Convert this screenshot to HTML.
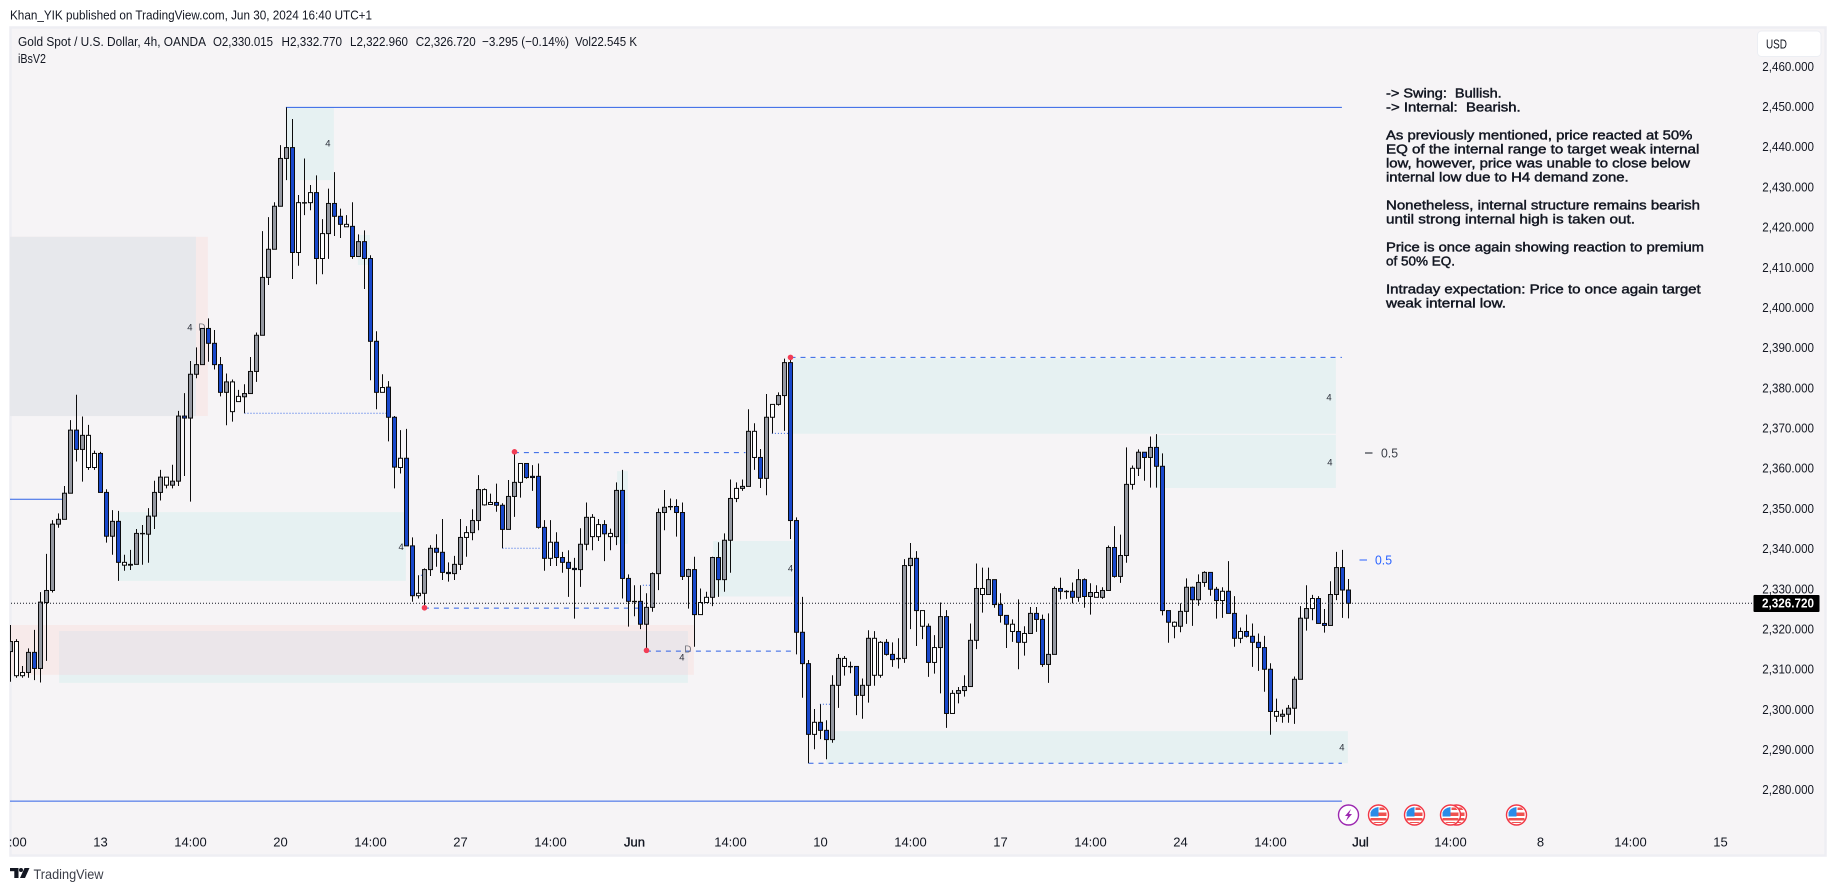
<!DOCTYPE html>
<html lang="en">
<head>
<meta charset="utf-8">
<title>Gold Spot / U.S. Dollar 4h chart</title>
<style>
html,body{margin:0;padding:0;background:#fff;width:1835px;height:891px;overflow:hidden}
svg{display:block}
text{font-family:"Liberation Sans",sans-serif;fill:#131722}
.note{white-space:pre;font-weight:400;stroke:#131722;stroke-width:.45px}
</style>
</head>
<body>
<svg id="chart" xmlns="http://www.w3.org/2000/svg" width="1835" height="891" viewBox="0 0 1835 891">
  <defs>
    <clipPath id="plot-clip"><rect x="10" y="28" width="1815" height="827"/></clipPath>
    <clipPath id="time-clip"><rect x="9" y="825" width="1742" height="30"/></clipPath>
  </defs>
  <rect x="0" y="0" width="1835" height="891" fill="#ffffff"/>
  <text x="10" y="19.5" font-size="13" fill="#2a2e39" textLength="362" lengthAdjust="spacingAndGlyphs">Khan_YIK published on TradingView.com, Jun 30, 2024 16:40 UTC+1</text>
  <rect x="10.5" y="27.5" width="1815" height="828" fill="#f6f4f6" stroke="#eeeef3" stroke-width="2.5"/>

  <g id="zones" clip-path="url(#plot-clip)"></g>
  <g id="levels" clip-path="url(#plot-clip)"></g>
  <g id="zone-labels"></g>
  <g id="candles" clip-path="url(#plot-clip)"></g>
  <g id="pivots"></g>

  <g>
    <text x="18" y="46" font-size="13" textLength="188" lengthAdjust="spacingAndGlyphs">Gold Spot / U.S. Dollar, 4h, OANDA</text>
    <text x="213" y="46" font-size="13" textLength="60" lengthAdjust="spacingAndGlyphs">O2,330.015</text>
    <text x="281.5" y="46" font-size="13" textLength="60.5" lengthAdjust="spacingAndGlyphs">H2,332.770</text>
    <text x="350" y="46" font-size="13" textLength="58" lengthAdjust="spacingAndGlyphs">L2,322.960</text>
    <text x="415.7" y="46" font-size="13" textLength="60" lengthAdjust="spacingAndGlyphs">C2,326.720</text>
    <text x="482" y="46" font-size="13" textLength="87" lengthAdjust="spacingAndGlyphs">−3.295 (−0.14%)</text>
    <text x="575" y="46" font-size="13" textLength="62" lengthAdjust="spacingAndGlyphs">Vol22.545 K</text>
    <text x="18" y="63" font-size="12.5" textLength="28" lengthAdjust="spacingAndGlyphs">iBsV2</text>
  </g>

  <g font-size="13">
    <text class="note" x="1386" y="97.5" textLength="115.7" lengthAdjust="spacingAndGlyphs">-&gt; Swing:  Bullish.</text>
    <text class="note" x="1386" y="111.5" textLength="134.7" lengthAdjust="spacingAndGlyphs">-&gt; Internal:  Bearish.</text>
    <text class="note" x="1386" y="139.5" textLength="306.3" lengthAdjust="spacingAndGlyphs">As previously mentioned, price reacted at 50%</text>
    <text class="note" x="1386" y="153.5" textLength="313.3" lengthAdjust="spacingAndGlyphs">EQ of the internal range to target weak internal</text>
    <text class="note" x="1386" y="167.5" textLength="304" lengthAdjust="spacingAndGlyphs">low, however, price was unable to close below</text>
    <text class="note" x="1386" y="181.5" textLength="242.7" lengthAdjust="spacingAndGlyphs">internal low due to H4 demand zone.</text>
    <text class="note" x="1386" y="209.5" textLength="314" lengthAdjust="spacingAndGlyphs">Nonetheless, internal structure remains bearish</text>
    <text class="note" x="1386" y="223.5" textLength="249" lengthAdjust="spacingAndGlyphs">until strong internal high is taken out.</text>
    <text class="note" x="1386" y="251.5" textLength="318" lengthAdjust="spacingAndGlyphs">Price is once again showing reaction to premium</text>
    <text class="note" x="1386" y="265.5" textLength="69" lengthAdjust="spacingAndGlyphs">of 50% EQ.</text>
    <text class="note" x="1386" y="293.5" textLength="314.7" lengthAdjust="spacingAndGlyphs">Intraday expectation: Price to once again target</text>
    <text class="note" x="1386" y="307.5" textLength="120" lengthAdjust="spacingAndGlyphs">weak internal low.</text>
  </g>

  <g>
    <rect x="1365" y="452.5" width="7.5" height="1" fill="#131722"/>
    <text x="1381" y="457.5" font-size="13" style="fill:#3a3d46" textLength="17" lengthAdjust="spacingAndGlyphs">0.5</text>
  </g>
  <g>
    <rect x="1359.5" y="559.5" width="7.5" height="1" fill="#2962ff"/>
    <text x="1375" y="564.5" font-size="13" style="fill:#2962ff" textLength="17" lengthAdjust="spacingAndGlyphs">0.5</text>
  </g>

  <g id="price-axis"></g>
  <g id="time-axis" clip-path="url(#time-clip)"></g>

  <line id="last-price-line" x1="11" x2="1753" stroke="#131722" stroke-width="1" stroke-dasharray="1 2"/>
  <rect id="last-price-box" x="1753.5" width="66" height="17" rx="1" fill="#000000"/>
  <text id="last-price-text" x="1762" font-size="13" font-weight="700" style="fill:#ffffff" textLength="52" lengthAdjust="spacingAndGlyphs"></text>

  <g>
    <rect x="1757.5" y="31" width="63.5" height="25.5" rx="4" fill="#ffffff" stroke="#eceef3" stroke-width="1"/>
    <text x="1766" y="48.5" font-size="12.5" textLength="21" lengthAdjust="spacingAndGlyphs">USD</text>
  </g>

  <g id="events"></g>

  <g>
    <rect x="10" y="868" width="8.5" height="3.2" fill="#131722"/>
    <rect x="14.3" y="868" width="4.2" height="10" fill="#131722"/>
    <circle cx="21" cy="870" r="2" fill="#131722"/>
    <polygon points="24.5,868 29.5,868 25,878 20,878" fill="#131722"/>
    <text x="33.5" y="879" font-size="14" style="fill:#3b3e48" textLength="70" lengthAdjust="spacingAndGlyphs">TradingView</text>
  </g>
</svg>

<script>
// ---- Candle data (first bar is index -1) ----
const opens = [
2314.7,2308.7,2308.7,2309.5,2314.5,2310.5,2326.9,2329.9,2346.4,2347.6,
2354.1,2369.8,2365.0,2360.5,2360.5,2364.0,2354.3,2343.4,2347.1,2336.2,
2336.4,2336.4,2344.0,2343.9,2348.4,2354.3,2356.1,2356.1,2357.1,2373.3,
2372.8,2383.7,2386.1,2395.1,2391.4,2386.1,2379.2,2374.4,2376.9,2378.1,
2378.9,2384.4,2393.4,2407.8,2414.8,2425.5,2437.4,2440.1,2414.0,2426.3,
2426.4,2428.9,2412.5,2418.7,2426.2,2423.0,2420.4,2420.5,2413.0,2416.7,
2412.5,2391.9,2379.2,2380.5,2373.0,2360.5,2362.8,2341.0,2328.6,2329.2,
2335.1,2340.4,2339.4,2334.4,2334.1,2336.4,2343.1,2344.3,2347.3,2351.2,
2351.3,2351.8,2351.1,2345.1,2353.3,2356.8,2361.5,2358.3,2358.3,2345.6,
2337.9,2341.9,2338.1,2336.9,2335.4,2335.1,2341.4,2343.3,2343.3,2346.3,
2343.3,2343.3,2354.8,2332.9,2327.2,2327.2,2321.5,2325.7,2334.1,2349.3,
2350.8,2350.8,2349.3,2333.4,2335.1,2323.9,2326.9,2328.2,2338.1,2332.6,
2342.4,2352.8,2355.3,2355.8,2363.0,2363.0,2357.8,2373.0,2376.2,2378.4,
2386.6,2347.3,2319.5,2311.7,2294.1,2297.1,2295.1,2292.8,2306.3,2311.0,
2311.0,2311.0,2303.8,2306.3,2308.8,2308.8,2317.0,2314.0,2313.0,2313.0,
2336.1,2337.9,2321.0,2321.0,2312.0,2315.7,2323.4,2299.3,2304.3,2305.0,
2306.0,2317.5,2328.9,2328.9,2332.6,2326.4,2323.7,2319.7,2319.7,2317.0,
2319.2,2324.2,2322.7,2311.5,2314.0,2330.4,2329.7,2329.7,2328.2,2332.6,
2328.4,2328.2,2328.2,2329.9,2340.6,2333.4,2338.6,2356.3,2360.3,2364.3,
2363.0,2365.5,2360.8,2324.9,2321.0,2321.0,2324.7,2330.7,2327.6,2331.9,
2334.4,2330.2,2327.4,2329.7,2324.2,2318.0,2319.7,2318.5,2317.0,2315.7,
2310.3,2298.6,2298.6,2299.1,2300.6,2307.8,2323.0,2325.4,2327.9,2321.7,
2321.2,2328.9,2335.6,2330.015];
const highs = [
2321.3,2317.8,2311.1,2315.5,2320.1,2329.5,2339.0,2347.4,2349.1,2355.9,
2372.3,2378.6,2373.2,2371.1,2364.7,2364.4,2355.1,2349.9,2349.7,2338.8,
2340.0,2345.2,2346.2,2350.4,2357.2,2359.9,2358.1,2361.2,2374.6,2379.0,
2387.0,2390.4,2395.1,2397.6,2394.7,2388.0,2383.9,2382.4,2379.8,2381.2,
2388.0,2394.1,2419.3,2422.8,2426.5,2440.7,2450.1,2447.2,2428.3,2437.4,
2430.8,2433.2,2422.3,2429.9,2434.0,2424.9,2423.3,2426.5,2418.5,2419.5,
2413.3,2394.4,2383.7,2382.0,2373.3,2369.8,2370.1,2343.1,2333.7,2335.4,
2341.2,2343.9,2347.7,2336.9,2338.5,2347.7,2345.9,2350.1,2358.6,2355.3,
2354.0,2356.5,2351.6,2357.4,2364.0,2361.5,2361.5,2361.1,2361.5,2347.4,
2347.4,2344.4,2339.5,2339.9,2338.0,2345.4,2351.8,2348.9,2347.7,2347.4,
2345.3,2356.8,2359.9,2333.9,2331.2,2331.2,2329.2,2334.4,2350.3,2354.9,
2352.8,2352.6,2351.8,2335.3,2338.3,2330.4,2329.6,2338.3,2341.9,2344.1,
2357.5,2356.8,2357.5,2375.0,2371.5,2365.1,2378.8,2376.2,2379.2,2387.6,
2388.2,2348.1,2328.3,2312.6,2300.4,2301.6,2297.6,2308.8,2314.1,2313.6,
2312.2,2311.0,2308.0,2320.0,2319.8,2317.3,2317.8,2317.0,2318.0,2337.7,
2341.7,2339.7,2324.9,2321.7,2318.8,2326.9,2325.0,2305.1,2305.9,2308.8,
2321.7,2336.6,2335.6,2335.6,2332.6,2329.2,2323.7,2322.7,2327.7,2321.0,
2325.8,2325.8,2323.9,2324.2,2330.9,2333.1,2330.0,2331.9,2335.2,2332.9,
2331.7,2331.2,2330.7,2341.1,2345.9,2343.8,2365.5,2361.0,2365.0,2364.3,
2368.2,2368.8,2364.0,2324.9,2322.2,2326.7,2332.9,2330.9,2333.9,2334.7,
2334.4,2330.8,2330.7,2337.2,2328.5,2320.7,2323.9,2321.7,2319.2,2318.6,
2311.8,2303.0,2300.3,2301.4,2308.5,2326.0,2331.2,2328.8,2328.5,2325.3,
2332.2,2339.5,2340.0,2332.77];
const lows = [
2307.2,2308.2,2308.2,2308.2,2307.6,2307.0,2312.4,2329.4,2345.5,2347.6,
2354.1,2362.0,2357.0,2359.9,2359.9,2354.3,2341.8,2338.8,2332.3,2334.8,
2335.0,2336.4,2336.3,2336.8,2345.2,2352.3,2355.3,2355.3,2355.9,2358.4,
2352.0,2382.7,2386.1,2386.8,2384.9,2378.2,2371.0,2371.9,2376.9,2374.0,
2378.9,2381.8,2393.4,2405.9,2414.8,2425.5,2432.0,2407.4,2410.7,2423.3,
2424.5,2406.1,2408.6,2412.4,2418.1,2417.6,2420.4,2412.4,2412.9,2404.9,
2382.2,2375.0,2379.2,2367.0,2355.3,2359.0,2341.0,2327.1,2327.9,2325.6,
2333.5,2335.8,2332.5,2332.1,2332.5,2335.0,2338.3,2342.4,2344.9,2351.0,
2351.2,2349.5,2340.4,2345.1,2348.2,2353.0,2357.7,2354.7,2345.3,2334.8,
2336.0,2336.0,2334.3,2328.3,2322.9,2330.8,2339.9,2339.9,2342.2,2337.2,
2339.9,2341.2,2327.9,2320.9,2323.5,2320.3,2315.1,2324.6,2330.0,2344.9,
2349.9,2343.3,2332.5,2325.4,2315.9,2323.9,2326.9,2326.0,2328.3,2329.6,
2334.3,2351.9,2354.7,2355.8,2359.9,2355.4,2353.6,2369.0,2375.9,2369.6,
2342.7,2314.0,2303.2,2286.9,2290.4,2292.9,2287.9,2292.0,2300.7,2308.7,
2309.3,2298.9,2298.0,2302.0,2306.2,2308.2,2313.7,2310.9,2310.5,2311.9,
2320.3,2316.1,2317.8,2308.4,2309.2,2304.3,2295.7,2299.3,2301.8,2303.5,
2306.0,2315.3,2324.4,2328.9,2325.6,2321.9,2315.6,2317.1,2310.3,2313.7,
2319.2,2319.6,2310.9,2306.9,2314.0,2327.7,2327.8,2326.7,2327.1,2325.6,
2323.9,2328.2,2327.8,2329.9,2333.1,2331.8,2336.8,2355.0,2358.4,2357.2,
2355.5,2355.5,2323.7,2316.9,2318.0,2319.5,2321.6,2321.1,2326.1,2330.8,
2328.6,2322.9,2323.1,2324.2,2315.9,2316.8,2318.2,2310.9,2309.9,2304.7,
2294.0,2297.2,2297.0,2297.0,2296.7,2307.8,2319.9,2322.5,2321.7,2319.4,
2321.2,2327.5,2323.1,2322.96];
const closes = [
2317.2,2317.2,2309.5,2314.5,2310.5,2327.0,2329.9,2346.4,2347.6,2354.1,
2369.8,2365.0,2368.5,2368.5,2364.0,2354.3,2343.4,2347.1,2336.9,2336.9,
2336.2,2344.1,2344.1,2348.4,2354.3,2358.1,2358.1,2357.1,2373.3,2372.8,
2383.7,2386.1,2395.1,2391.4,2386.1,2379.2,2381.8,2381.8,2378.2,2378.9,
2384.4,2393.4,2407.8,2414.8,2425.5,2437.4,2440.1,2414.0,2426.4,2426.4,
2428.9,2412.5,2418.7,2426.2,2423.0,2421.0,2421.0,2413.0,2416.7,2412.5,
2391.9,2379.2,2380.4,2373.0,2360.6,2362.8,2341.0,2328.6,2329.2,2335.1,
2340.4,2339.4,2334.4,2334.1,2336.4,2343.1,2344.3,2347.3,2355.0,2355.0,
2351.8,2351.1,2345.1,2353.3,2356.8,2361.5,2358.0,2358.0,2345.6,2337.9,
2341.9,2338.1,2336.9,2335.4,2335.1,2341.4,2348.1,2348.1,2346.3,2344.0,
2344.1,2354.8,2332.9,2327.2,2327.1,2321.5,2325.7,2334.1,2349.3,2350.6,
2350.7,2349.3,2333.4,2335.1,2323.9,2326.9,2328.2,2338.1,2332.6,2342.4,
2352.8,2355.3,2355.8,2369.5,2369.5,2357.8,2373.0,2376.2,2378.4,2386.6,
2347.3,2319.5,2311.7,2294.1,2297.1,2295.1,2292.8,2306.3,2313.0,2313.0,
2310.9,2303.8,2306.3,2318.0,2318.0,2317.0,2314.0,2312.7,2312.9,2336.1,
2337.9,2324.9,2324.9,2312.0,2315.7,2323.4,2299.3,2304.3,2305.0,2306.0,
2317.5,2330.4,2330.4,2332.6,2326.4,2323.7,2321.5,2321.5,2317.0,2319.2,
2324.2,2322.7,2311.5,2314.0,2330.4,2329.7,2329.6,2328.2,2332.6,2328.4,
2329.4,2329.4,2329.9,2340.6,2333.4,2338.6,2356.3,2360.3,2364.3,2363.0,
2365.5,2360.8,2324.9,2322.0,2322.0,2324.7,2330.7,2327.6,2331.9,2334.4,
2330.2,2327.4,2329.7,2324.2,2318.0,2319.7,2318.5,2317.0,2315.7,2310.3,
2299.8,2299.8,2299.1,2300.6,2307.8,2323.0,2325.4,2327.9,2321.7,2321.2,
2328.9,2335.6,2330.015,2326.72];
const whiteBars = [0,1,12,13,18,25,36,37,47,49,51,55,61,64,67,75,78,79,84,89,96,97,99,114,115,120,123,126,133,138,143,144,151,153,156,161,166,168,180,186,193,201,204,210,216];
const firstBar = -1;
const lastPrice = 2326.72;

// ---- Axis data ----
const priceTicks = [2460,2450,2440,2430,2420,2410,2400,2390,2380,2370,2360,2350,2340,2330,2320,2310,2300,2290,2280];
const timeLabels = ["14:00","13","14:00","20","14:00","27","14:00","Jun","14:00","10","14:00","17","14:00","24","14:00","Jul","14:00","8","14:00","15"];
const timeBars = [-1,14,29,44,59,74,89,103,119,134,149,164,179,194,209,224,239,254,269,284];
const strongTimeLabels = ["Jun","Jul"];

// ---- Drawn zones: kind, start bar, end bar, top price, bottom price ----
const zoneKinds = ["teal","teal","pink","grey","teal","pink","teal","overlap","teal","teal","teal","teal","teal"];
const zoneStartBars = [44.9,56.9,-1.2,-1.2,16.9,-1.2,7.1,7.1,100.1,116.1,129.4,189.75,135];
const zoneEndBars = [52.9,58.9,31.9,29.9,64.9,112.9,111.9,111.9,101.9,129.4,219.9,219.9,221.9];
const zoneTopPrices = [2450.1,2418.35,2417.9,2417.9,2349.4,2321.3,2319.8,2319.8,2359.6,2342.2,2387.7,2368.6,2294.9];
const zoneBottomPrices = [2432.0,2410.9,2373.3,2373.3,2332.3,2308.9,2306.9,2308.9,2341.5,2328.4,2368.9,2355.4,2286.9];

// ---- Drawn levels: style, start bar, end bar, price ----
const levelStyles = ["solid","solid","solid","dotted","dashed","dotted","dashed","dotted","dashed","dotted","dotted","dashed","dotted","dashed"];
const levelStartBars = [44.9,-1.2,-1.2,38,82.9,81,67.9,67.4,104.9,104.4,125.9,129,133.9,132];
const levelEndBars = [220.9,7.6,220.9,62,121.5,87.5,103.6,68,129.6,105.6,128.6,220.9,135.6,220.9];
const levelPrices = [2450.1,2352.6,2277.5,2374.0,2364.2,2340.4,2325.5,2333.7,2314.8,2331.2,2369.0,2387.9,2301.6,2286.9];

// ---- Zone annotations and pivots ----
const noteTexts = ["4","4","D","4","4","D","4","4","4","4"];
const noteBars = [51.9,28.9,30.9,64.1,110.9,111.9,129,218.75,218.9,220.9];
const notePrices = [2441.2,2395.5,2395.5,2340.8,2313.4,2315.3,2335.5,2378.1,2361.9,2291.0];
const pivotBars = [83,68,105,129];
const pivotPrices = [2364.4,2325.6,2315.0,2387.9];

// ---- Economic events: kind, bar ----
const eventKinds = ["news","flag","flag","flag","flag","flag"];
const eventBars = [222,227,233,240,239,250];

// ---- Axis functions ----
const SVG_NS = "http://www.w3.org/2000/svg";
function xOf(bar){ return 16.5 + 6 * bar; }
function yOf(price){ return 107.4 + (2450.1 - price) * 4.019; }
function fmtPrice(p){
  const s = p.toFixed(3);
  return s.charAt(0) + "," + s.slice(1);
}
function make(tag, parent){
  const el = document.createElementNS(SVG_NS, tag);
  parent.appendChild(el);
  return el;
}
const zoneFill = {teal:"#e6f1f2", pink:"#f7eaea", grey:"#e7e8ec", overlap:"#ebe6ea"};
const zonesLayer = document.getElementById("zones");
zoneKinds.forEach(function(kind, i){
  const r = make("rect", zonesLayer);
  
  
  const x0 = xOf(zoneStartBars[i]), x1 = xOf(zoneEndBars[i]);
  const y0 = yOf(zoneTopPrices[i]), y1 = yOf(zoneBottomPrices[i]);
  r.setAttribute("x", x0);
  r.setAttribute("y", y0);
  r.setAttribute("width", x1 - x0);
  r.setAttribute("height", y1 - y0);
  r.setAttribute("fill", zoneFill[kind]);
});

const levelsLayer = document.getElementById("levels");
levelStyles.forEach(function(style, i){
  const l = make("line", levelsLayer);
  
  
  const y = yOf(levelPrices[i]);
  l.setAttribute("x1", xOf(levelStartBars[i]));
  l.setAttribute("x2", xOf(levelEndBars[i]));
  l.setAttribute("y1", y);
  l.setAttribute("y2", y);
  l.setAttribute("stroke", "#2f62e6");
  l.setAttribute("stroke-width", "1");
  if (style === "dashed") l.setAttribute("stroke-dasharray", "5 5");
  if (style === "dotted") l.setAttribute("stroke-dasharray", "1 2");
});

const notesLayer = document.getElementById("zone-labels");
noteTexts.forEach(function(txt, i){
  const t = make("text", notesLayer);
  
  
  t.setAttribute("x", xOf(noteBars[i]));
  t.setAttribute("y", yOf(notePrices[i]) + 3.5);
  t.setAttribute("font-size", txt === "D" ? "10" : "9.5");
  t.setAttribute("text-anchor", "middle");
  t.style.fill = txt === "D" ? "#77777f" : "#2a2e39";
  t.textContent = txt;
});

const candlesLayer = document.getElementById("candles");
opens.forEach(function(open, i){
  const bar = firstBar + i;
  const close = closes[i];
  const x = xOf(bar);
  const isWhite = whiteBars.indexOf(bar) >= 0;
  const fill = close < open ? "#1848cc" : (isWhite ? "#ffffff" : "#9598a1");
  const wick = make("line", candlesLayer);
  
  
  wick.setAttribute("x1", x);
  wick.setAttribute("x2", x);
  wick.setAttribute("y1", yOf(highs[i]));
  wick.setAttribute("y2", yOf(lows[i]));
  wick.setAttribute("stroke", "#0c0c0c");
  wick.setAttribute("stroke-width", "1");
  const body = make("rect", candlesLayer);
  
  
  const top = yOf(Math.max(open, close));
  const bot = yOf(Math.min(open, close));
  body.setAttribute("x", x - 2);
  body.setAttribute("y", top);
  body.setAttribute("width", 4);
  body.setAttribute("height", Math.max(bot - top, 0.4));
  body.setAttribute("fill", fill);
  body.setAttribute("stroke", "#0c0c0c");
  body.setAttribute("stroke-width", "1");
});

const pivotsLayer = document.getElementById("pivots");
pivotBars.forEach(function(bar, i){
  const c = make("circle", pivotsLayer);
  
  
  c.setAttribute("cx", xOf(bar));
  c.setAttribute("cy", yOf(pivotPrices[i]));
  c.setAttribute("r", "2.8");
  c.setAttribute("fill", "#f23d55");
});

const priceAxis = document.getElementById("price-axis");
priceTicks.forEach(function(p){
  const t = make("text", priceAxis);
  
  
  t.setAttribute("x", 1762.3);
  t.setAttribute("y", yOf(p) - 1.4 + 4.6);
  t.setAttribute("font-size", "13");
  t.setAttribute("textLength", "51.7");
  t.setAttribute("lengthAdjust", "spacingAndGlyphs");
  t.textContent = fmtPrice(p);
});

const timeAxis = document.getElementById("time-axis");
timeLabels.forEach(function(label, i){
  const t = make("text", timeAxis);
  
  
  t.setAttribute("x", xOf(timeBars[i]));
  t.setAttribute("y", 846.5);
  t.setAttribute("font-size", "13");
  t.setAttribute("text-anchor", "middle");
  if (strongTimeLabels.indexOf(label) >= 0) {
    t.style.stroke = "#131722";
    t.style.strokeWidth = "0.35px";
  }
  t.textContent = label;
});

const lastY = yOf(lastPrice);
const lastLine = document.getElementById("last-price-line");
lastLine.setAttribute("y1", lastY);
lastLine.setAttribute("y2", lastY);
document.getElementById("last-price-box").setAttribute("y", lastY - 8.3);
const lastText = document.getElementById("last-price-text");
lastText.setAttribute("y", lastY + 4.4);
lastText.textContent = fmtPrice(lastPrice);

const eventsLayer = document.getElementById("events");
const eventY = 815;
eventKinds.forEach(function(kind, i){
  const cx = xOf(eventBars[i]);
  const g = make("g", eventsLayer);
  
  
  const ring = make("circle", g);
  
  
  ring.setAttribute("cx", cx);
  ring.setAttribute("cy", eventY);
  ring.setAttribute("r", "10");
  ring.setAttribute("fill", "#ffffff");
  ring.setAttribute("stroke", kind === "news" ? "#9c27b0" : "#f23645");
  ring.setAttribute("stroke-width", "1.4");
  if (kind === "news") {
    const bolt = make("polygon", g);
    
    
    bolt.setAttribute("points", [[cx+2.5,eventY-6],[cx-3.5,eventY+1],[cx-0.5,eventY+1],[cx-2.5,eventY+6],[cx+3.5,eventY-1],[cx+0.5,eventY-1]].map(function(p){return p.join(",");}).join(" "));
    bolt.setAttribute("fill", "#9c27b0");
  } else {
    const stripeA = make("path", g);
    
    
    stripeA.setAttribute("d", "M"+(cx-8)+" "+(eventY+3)+" H"+(cx+8)+" V"+(eventY+5.5)+" H"+(cx-8)+" Z M"+(cx)+" "+(eventY-2.5)+" H"+(cx+8)+" V"+(eventY+1)+" H"+(cx)+" Z M"+(cx-5.5)+" "+(eventY+7)+" H"+(cx+5.5)+" L"+(cx+4)+" "+(eventY+8)+" H"+(cx-4)+" Z M"+(cx+1)+" "+(eventY-7.5)+" H"+(cx+5)+" L"+(cx+7)+" "+(eventY-5)+" H"+(cx+1)+" Z");
    stripeA.setAttribute("fill", "#ef5350");
    const canton = make("path", g);
    
    
    canton.setAttribute("d", "M"+(cx-8)+" "+(eventY+1.5)+" V"+(eventY-2.5)+" Q"+(cx-6.5)+" "+(eventY-7)+" "+(cx)+" "+(eventY-8)+" V"+(eventY+1.5)+" Z");
    canton.setAttribute("fill", "#2a8ce8");
  }
});
</script>
</body>
</html>
